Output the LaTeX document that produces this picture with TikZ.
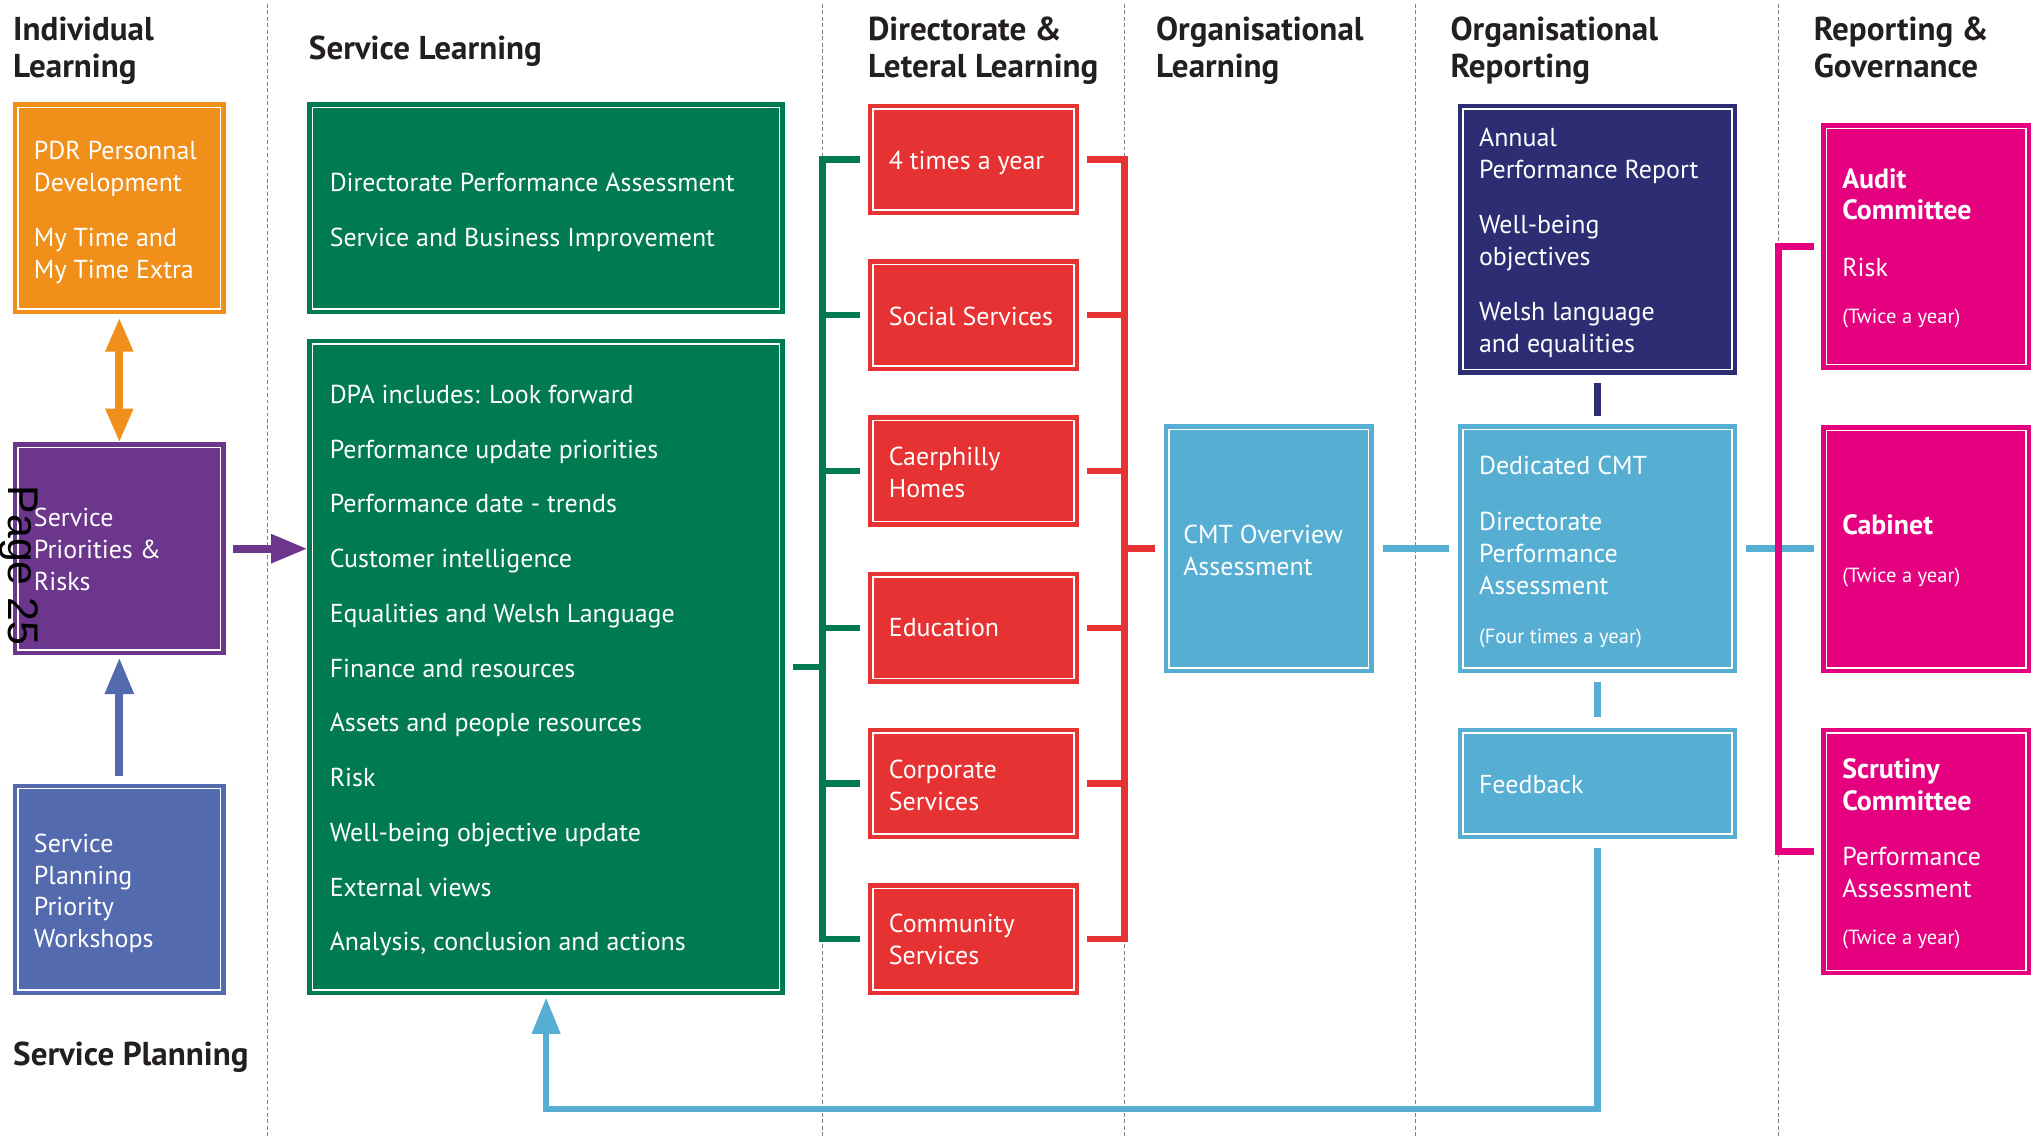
\documentclass[tikz,border=0pt]{standalone}
\usepackage{fontspec}
\setmainfont{PT Sans}
\newfontfamily\pagefont{Liberation Sans}
\usetikzlibrary{arrows.meta,calc}
\definecolor{cOrange}{RGB}{240,144,26}
\definecolor{cPurple}{RGB}{107,54,140}
\definecolor{cSlate}{RGB}{84,106,174}
\definecolor{cGreen}{RGB}{0,123,80}
\definecolor{cRed}{RGB}{230,50,50}
\definecolor{cCyan}{RGB}{86,174,211}
\definecolor{cNavy}{RGB}{44,45,114}
\definecolor{cMag}{RGB}{228,0,126}
\definecolor{cHead}{RGB}{35,31,32}
\tikzset{
 box/.style={rectangle, fill=#1, inner sep=0pt, outer sep=0pt, anchor=north west,
   path picture={\draw[white,line width=1.2pt] ([shift={(4pt,-4pt)}]path picture bounding box.north west) rectangle ([shift={(-4pt,4pt)}]path picture bounding box.south east);}},
 txt/.style={text=white, font=\fontsize{20}{24.5}\selectfont, align=left, anchor=base west, inner sep=0pt},
 smalltxt/.style={txt, font=\fontsize{15.8}{18}\selectfont},
 boldtxt/.style={txt, font=\fontsize{21.5}{24.5}\selectfont\bfseries},
 head/.style={text=cHead, font=\fontsize{25.5}{29}\selectfont\bfseries, align=left, anchor=base west, inner sep=0pt},
 sepline/.style={draw=gray, dash pattern=on 3pt off 2pt, line width=0.7pt},
 conn/.style={line width=5pt, draw=#1, line join=miter},
 tip/.style={-{Triangle[length=28pt,width=21pt]}},
}
\begin{document}
\begin{tikzpicture}[x=1pt,y=-1pt]
\useasboundingbox (0,0) rectangle (1568,877);
\fill[white] (0,0) rectangle (1568,877);
% separators
\foreach \sx in {206,634,867,1091,1371} \draw[sepline] (\sx,3) -- (\sx,877);
% headings (anchor = baseline of last line)
\node[head] (h1) at (10,60) {Individual\\Learning};
\node[head] (h2) at (238,46) {Service Learning};
\node[head] (h3) at (669,60) {Directorate \&\\Leteral Learning};
\node[head] (h4) at (891,60) {Organisational\\Learning};
\node[head] (h5) at (1118,60) {Organisational\\Reporting};
\node[head] (h6) at (1398,60) {Reporting \&\\Governance};
\node[head] (h7) at (10,821) {Service Planning};
% left column boxes
\node[box=cOrange, minimum width=164pt, minimum height=163pt] (orange) at (10,79) {};
\node[box=cPurple, minimum width=164pt, minimum height=164pt] (purple) at (10,341) {};
\node[box=cSlate, minimum width=164pt, minimum height=163pt] (slate) at (10,604) {};
\node[txt] (o1) at (26,147.5) {PDR Personnal\\Development};
\node[txt] (o2) at (26,214.5) {My Time and\\My Time Extra};
\node[txt] (p1) at (26,455) {Service\\Priorities \&\\Risks};
\node[txt] (s1) at (26,730.5) {Service\\Planning\\Priority\\Workshops};
% green boxes
\node[box=cGreen, minimum width=368pt, minimum height=163pt] (gtop) at (237,79) {};
\node[box=cGreen, minimum width=368pt, minimum height=506pt] (gbig) at (237,261) {};
\node[txt] (gt1) at (254,148) {Directorate Performance Assessment};
\node[txt] (gt2) at (254,190) {Service and Business Improvement};
\foreach \t [count=\i from 0] in {DPA includes: Look forward,Performance update priorities,Performance date - trends,Customer intelligence,Equalities and Welsh Language,Finance and resources,Assets and people resources,Risk,Well-being objective update,External views,{Analysis, conclusion and actions}}
  \node[txt] (gb\i) at (254,{311+42.2*\i}) {\t};
% red boxes
\foreach \ry [count=\i] in {80,200,320,441,561,681}
  \node[box=cRed, minimum width=163pt, minimum height=86pt] (r\i) at (669,\ry) {};
\node[txt] (rt1) at (685,131) {4 times a year};
\node[txt] (rt2) at (685,251) {Social Services};
\node[txt] (rt3) at (685,383.5) {Caerphilly\\Homes};
\node[txt] (rt4) at (685,491) {Education};
\node[txt] (rt5) at (685,624.5) {Corporate\\Services};
\node[txt] (rt6) at (685,743.5) {Community\\Services};
% cyan / navy
\node[box=cCyan, minimum width=162pt, minimum height=192pt] (cmt) at (897,327) {};
\node[txt] (ct1) at (912,443.5) {CMT Overview\\Assessment};
\node[box=cNavy, minimum width=215pt, minimum height=209pt] (navy) at (1124,80) {};
\node[txt] (nt1) at (1140,137.5) {Annual\\Performance Report};
\node[txt] (nt2) at (1140,204.5) {Well-being\\objectives};
\node[txt] (nt3) at (1140,271.5) {Welsh language\\and equalities};
\node[box=cCyan, minimum width=215pt, minimum height=192pt] (ded) at (1124,327) {};
\node[txt] (dt1) at (1140,366) {Dedicated CMT};
\node[txt] (dt2) at (1140,458) {Directorate\\Performance\\Assessment};
\node[smalltxt] (dt3) at (1140,496) {(Four times a year)};
\node[box=cCyan, minimum width=215pt, minimum height=86pt] (feedback) at (1124,561) {};
\node[txt] (ft1) at (1140,612) {Feedback};
% magenta
\node[box=cMag, minimum width=162pt, minimum height=190pt] (audit) at (1404,95) {};
\node[boldtxt] (at1) at (1420,169.5) {Audit\\Committee};
\node[txt] (at2) at (1420,213) {Risk};
\node[smalltxt] (at3) at (1420,249) {(Twice a year)};
\node[box=cMag, minimum width=162pt, minimum height=191pt] (cabinet) at (1404,328) {};
\node[boldtxt] (cb1) at (1420,412) {Cabinet};
\node[smalltxt] (cb2) at (1420,449) {(Twice a year)};
\node[box=cMag, minimum width=162pt, minimum height=191pt] (scrutiny) at (1404,561) {};
\node[boldtxt] (sc1) at (1420,624.5) {Scrutiny\\Committee};
\node[txt] (sc2) at (1420,691.5) {Performance\\Assessment};
\node[smalltxt] (sc3) at (1420,728) {(Twice a year)};
% page label
\node[font=\pagefont\fontsize{33}{36}\selectfont, text=black, rotate=-90, inner sep=0pt] (page) at (15,436) {Page 25};
% arrows left
\draw[conn=cOrange, line width=6pt, {Triangle[length=26pt,width=20pt]}-{Triangle[length=26pt,width=20pt]}] ([yshift=-3pt]orange.south) -- (purple.north);
\draw[conn=cSlate, line width=6pt, tip] ([yshift=6pt]slate.north) -- ([yshift=-2pt]purple.south);
\draw[conn=cPurple, line width=6pt, tip] ([xshift=6pt]purple.east) -- (gbig.west |- purple.east);
% green bracket
\coordinate (gsp) at (634,0);
\draw[conn=cGreen] ([xshift=-6pt]r1.west) -- (r1.west -| gsp) -- (r6.west -| gsp) -- ([xshift=-6pt]r6.west);
\foreach \i in {2,...,5} \draw[conn=cGreen] ([xshift=-6pt]r\i.west) -- (r\i.west -| gsp);
\draw[conn=cGreen] ([xshift=6pt]gbig.east) -- (gbig.east -| gsp);
% red bracket
\coordinate (rsp) at (867,0);
\draw[conn=cRed] ([xshift=6pt]r1.east) -- (r1.east -| rsp) -- (r6.east -| rsp) -- ([xshift=6pt]r6.east);
\foreach \i in {2,...,5} \draw[conn=cRed] ([xshift=6pt]r\i.east) -- (r\i.east -| rsp);
\draw[conn=cRed] (cmt.west -| rsp) -- ([xshift=-7pt]cmt.west);
% cyan links
\draw[conn=cCyan] ([xshift=7pt]cmt.east) -- ([xshift=-7pt]ded.west);
\draw[conn=cCyan] ([xshift=7pt]ded.east) -- ([xshift=-6pt]cabinet.west |- ded.east);
\draw[conn=cNavy, line width=6pt] ([yshift=-6pt]navy.south) -- ([yshift=6pt]ded.north);
\draw[conn=cCyan, line width=6pt] ([yshift=-7pt]ded.south) -- ([yshift=8pt]feedback.north);
\coordinate (fbline) at (0,855);
\draw[conn=cCyan, tip] ([yshift=-7pt]feedback.south) -- (feedback.south |- fbline) -- (gbig.south |- fbline) -- ([yshift=-2pt]gbig.south);
% magenta bracket
\coordinate (msp) at (1371,0);
\draw[conn=cMag] ([xshift=-6pt]audit.west) -- (audit.west -| msp) -- (scrutiny.west -| msp) -- ([xshift=-6pt]scrutiny.west);
\end{tikzpicture}
\end{document}
